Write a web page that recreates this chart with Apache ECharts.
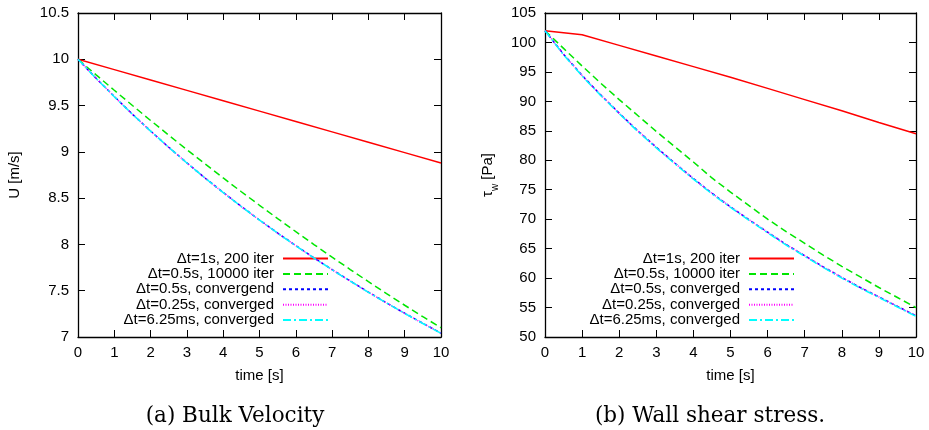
<!DOCTYPE html>
<html><head><meta charset="utf-8">
<script src="https://cdn.jsdelivr.net/npm/echarts@6/dist/echarts.min.js"></script>
<style>html,body{margin:0;padding:0;background:#fff}#c{width:929px;height:430px}</style>
</head><body><div id="c"></div>
<script>
// ---- data ----
const timeInt = [0,1,2,3,4,5,6,7,8,9,10];
const timeHalf = [0,0.5,1,1.5,2,2.5,3,3.5,4,4.5,5,5.5,6,6.5,7,7.5,8,8.5,9,9.5,10];

const namesLeft = ['Δt=1s, 200 iter','Δt=0.5s, 10000 iter','Δt=0.5s, convergend','Δt=0.25s, converged','Δt=6.25ms, converged'];
const namesRight = ['Δt=1s, 200 iter','Δt=0.5s, 10000 iter','Δt=0.5s, converged','Δt=0.25s, converged','Δt=6.25ms, converged'];

// bulk velocity U [m/s]
const uRed = [10, 9.888, 9.776, 9.664, 9.552, 9.44, 9.328, 9.216, 9.104, 8.992, 8.88];
const uGreen = [10, 9.831, 9.665, 9.501, 9.339, 9.180, 9.024, 8.870, 8.718, 8.569, 8.423, 8.279, 8.138, 7.999, 7.863, 7.729, 7.598, 7.469, 7.343, 7.219, 7.100];
const uBlue = [10, 9.794, 9.597, 9.407, 9.225, 9.050, 8.881, 8.718, 8.562, 8.410, 8.264, 8.123, 7.987, 7.855, 7.728, 7.605, 7.485, 7.369, 7.257, 7.148, 7.042];
const uMagenta = [10, 9.794, 9.597, 9.406, 9.224, 9.049, 8.880, 8.717, 8.561, 8.409, 8.263, 8.122, 7.986, 7.854, 7.727, 7.604, 7.484, 7.368, 7.256, 7.147, 7.041];
const uCyan = [10, 9.793, 9.596, 9.406, 9.224, 9.049, 8.880, 8.717, 8.560, 8.409, 8.263, 8.122, 7.985, 7.853, 7.726, 7.603, 7.483, 7.367, 7.255, 7.146, 7.040];

// wall shear stress tau_w [Pa]
const tauRed = [102.0, 101.3, 99.5, 97.7, 95.9, 94.1, 92.2, 90.3, 88.4, 86.4, 84.5];
const tauGreen = [102.0, 99.0, 96.0, 93.1, 90.3, 87.6, 84.9, 82.3, 79.7, 77.0, 74.6, 72.3, 70.0, 67.9, 65.9, 63.9, 62.0, 60.2, 58.4, 56.7, 55.0];
const tauBlue = [102.0, 98.0, 94.4, 91.1, 88.0, 85.0, 82.2, 79.5, 76.9, 74.4, 72.1, 69.9, 67.8, 65.7, 63.8, 61.9, 60.1, 58.4, 56.8, 55.2, 53.6];
const tauMagenta = [102.0, 98.0, 94.4, 91.1, 88.0, 85.0, 82.2, 79.5, 76.9, 74.4, 72.1, 69.9, 67.8, 65.7, 63.8, 61.9, 60.1, 58.4, 56.8, 55.2, 53.6];
const tauCyan = [102.0, 97.9, 94.3, 91.0, 87.9, 84.9, 82.1, 79.4, 76.8, 74.3, 72.0, 69.8, 67.7, 65.6, 63.7, 61.8, 60.0, 58.3, 56.7, 55.1, 53.5];

const xTicks = [0,1,2,3,4,5,6,7,8,9,10];
const uTicks = {min:7, max:10.5, interval:0.5};
const tauTicks = {min:50, max:105, interval:5};

// ---- chart ----
const FONT = 'Liberation Sans';
const styles = [
  {color:'#ff0000', type:'solid'},
  {color:'#00e600', type:[7,4]},
  {color:'#0000ff', type:[3,3]},
  {color:'#ff00ff', type:[1,1.5]},
  {color:'#00ffff', type:[8,3,2,3]}
];
const zip = (xs, ys) => xs.map((x,i)=>[x, ys[i]]);

function xAxesFor(gi){
  const common = {type:'value', gridIndex:gi, min:xTicks[0], max:xTicks[xTicks.length-1], interval:1,
    axisLine:{show:true, onZero:false, lineStyle:{color:'#000', width:1.3}},
    axisTick:{show:true, inside:true, length:7, lineStyle:{color:'#000', width:1}},
    splitLine:{show:false}};
  return [
    Object.assign({}, common, {position:'bottom',
      axisLabel:{margin:8, color:'#000', fontSize:15, fontFamily:FONT},
      name:'time [s]', nameLocation:'middle', nameGap:31,
      nameTextStyle:{color:'#000', fontSize:15, fontFamily:FONT}}),
    Object.assign({}, common, {position:'top', axisLabel:{show:false}})
  ];
}
function yAxesFor(gi, t, name, nameGap, rich){
  const common = {type:'value', gridIndex:gi, min:t.min, max:t.max, interval:t.interval,
    axisLine:{show:true, onZero:false, lineStyle:{color:'#000', width:1.3}},
    axisTick:{show:true, inside:true, length:7, lineStyle:{color:'#000', width:1}},
    splitLine:{show:false}};
  const nts = {color:'#000', fontSize:15, fontFamily:FONT};
  if (rich) nts.rich = rich;
  return [
    Object.assign({}, common, {position:'left',
      axisLabel:{margin:9, color:'#000', fontSize:15, fontFamily:FONT},
      name:name, nameLocation:'middle', nameGap:nameGap, nameTextStyle:nts}),
    Object.assign({}, common, {position:'right', axisLabel:{show:false}})
  ];
}

const series = [];
function addSeries(names, xIdx, yIdx, datasets){
  datasets.forEach((d,i)=>{
    series.push({type:'line', name:names[i], xAxisIndex:xIdx, yAxisIndex:yIdx,
      data: zip(d[0], d[1]), symbol:'none', showSymbol:false, smooth:false,
      lineStyle:{color:styles[i].color, type:styles[i].type, width:1.5},
      itemStyle:{color:styles[i].color}, z: 2+i, silent:true});
  });
}
addSeries(namesLeft, 0, 0, [[timeInt,uRed],[timeHalf,uGreen],[timeHalf,uBlue],[timeHalf,uMagenta],[timeHalf,uCyan]]);
addSeries(namesRight, 2, 2, [[timeInt,tauRed],[timeHalf,tauGreen],[timeHalf,tauBlue],[timeHalf,tauMagenta],[timeHalf,tauCyan]]);

const legendCommon = {orient:'vertical', align:'right', top:251, itemWidth:45, itemHeight:14, itemGap:0.4,
  selectedMode:false,
  itemStyle:{color:'transparent', borderColor:'transparent', borderWidth:0, opacity:0},
  textStyle:{color:'#000', fontSize:15, lineHeight:15, fontFamily:FONT, padding:[0,4,0,0]}, backgroundColor:'transparent', padding:0};

const chart = echarts.init(document.getElementById('c'), null, {renderer:'canvas'});
chart.setOption({
  animation:false,
  backgroundColor:'#fff',
  grid:[
    {left:78, top:13, width:363, height:324, containLabel:false},
    {left:545, top:13, width:371, height:324, containLabel:false}
  ],
  xAxis:[...xAxesFor(0), ...xAxesFor(1)],
  yAxis:[...yAxesFor(0, uTicks, 'U [m/s]', 56),
         ...yAxesFor(1, tauTicks, '{t|τ}{s|w} [Pa]', 50, {t:{fontSize:15, fontFamily:FONT, color:'#000'}, s:{fontSize:10, fontFamily:FONT, color:'#000', verticalAlign:'bottom', padding:[0,0,-5,0]}})],
  legend:[
    Object.assign({}, legendCommon, {right:600, data:namesLeft}),
    Object.assign({}, legendCommon, {right:134, data:namesRight})
  ],
  series: series,
  graphic:[
    {type:'text', x:235, y:416, style:{text:'(a) Bulk Velocity', font:'21.5px "DejaVu Serif"', fill:'#000', textAlign:'center', textVerticalAlign:'middle'}},
    {type:'text', x:710, y:416, style:{text:'(b) Wall shear stress.', font:'21.5px "DejaVu Serif"', fill:'#000', textAlign:'center', textVerticalAlign:'middle'}}
  ]
});
</script></body></html>
